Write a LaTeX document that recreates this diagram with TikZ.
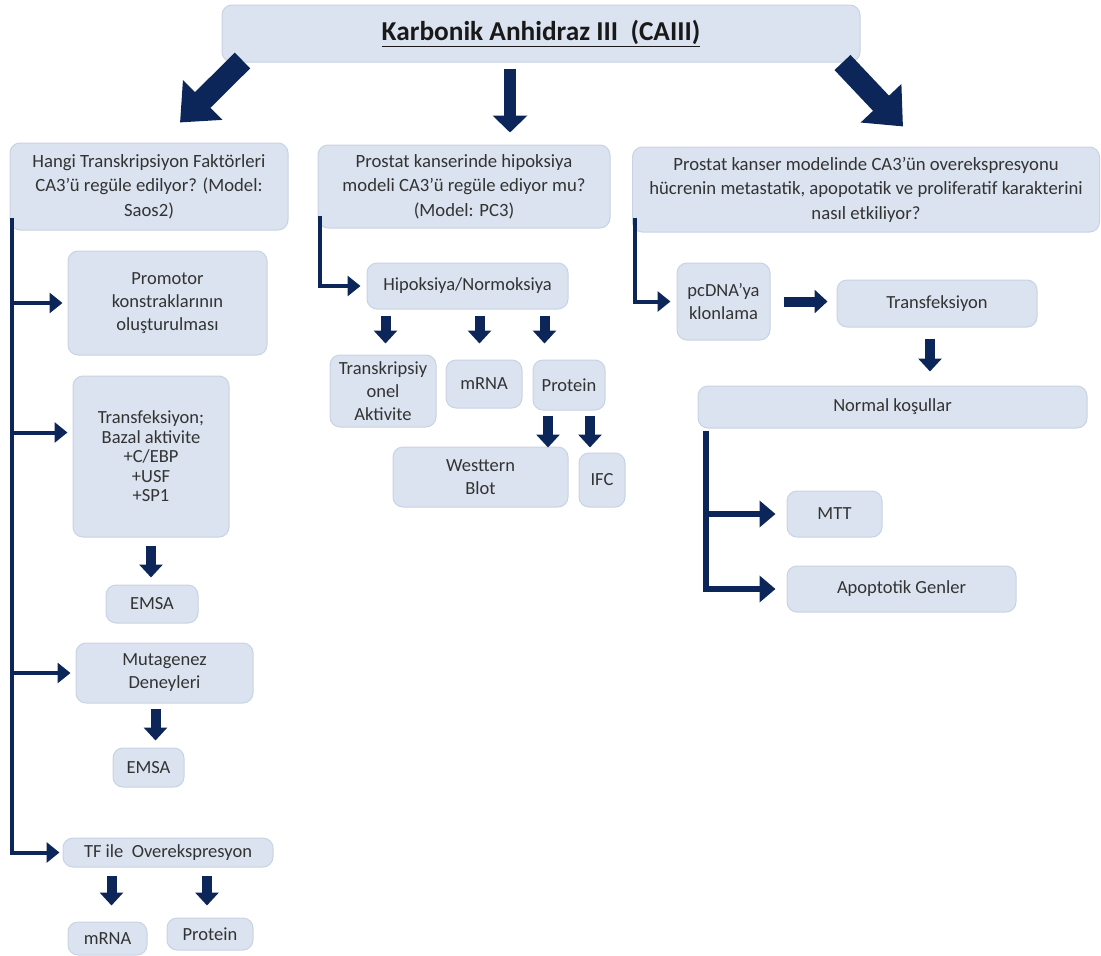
\documentclass[tikz,border=0pt]{standalone}
\usepackage{fontspec}
\setmainfont{Carlito}
\usetikzlibrary{arrows.meta,calc}
\definecolor{boxfill}{HTML}{DAE3EF}
\definecolor{boxline}{HTML}{C8D3E3}
\definecolor{navy}{HTML}{0D2659}
\definecolor{txt}{HTML}{333333}
\begin{document}
\begin{tikzpicture}[x=1pt,y=1pt,
  box/.style={draw=boxline, line width=1pt, fill=boxfill, rounded corners=10pt,
    align=center, text=txt, inner sep=0pt, font=\fontsize{18.5}{23}\selectfont},
  question/.style={box, font=\fontsize{18.7}{24.5}\selectfont},
  conn/.style={draw=navy, line width=4pt, -{Triangle[width=20pt,length=13pt]}},
  connb/.style={draw=navy, line width=6pt, -{Triangle[width=26pt,length=16pt]}},
  fat/.style={draw=navy, line width=10pt, -{Triangle[width=23pt,length=13pt]}},
  fatmid/.style={draw=navy, line width=12pt, -{Triangle[width=34pt,length=17pt]}},
  huge/.style={draw=navy, line width=22pt, -{Triangle[width=54pt,length=32pt]}}]
\useasboundingbox (0,0) rectangle (1101,-956);

% title
\node[box, minimum width=638, minimum height=57, text=black!90,
  font=\fontsize{27.3}{30}\selectfont\bfseries] (title) at (541,-33.5)
  {\underline{Karbonik Anhidraz III~ (CAIII)}};

% three questions
\node[question, minimum width=278, minimum height=87] (A) at (149,-186.5)
  {Hangi Transkripsiyon Faktörleri\\CA3’ü regüle edilyor? (Model:\\Saos2)};
\node[question, minimum width=292, minimum height=83] (B) at (464,-186.5)
  {Prostat kanserinde hipoksiya\\modeli CA3’ü regüle ediyor mu?\\(Model: PC3)};
\node[question, minimum width=467, minimum height=85] (C) at (866,-189.5)
  {Prostat kanser modelinde CA3’ün overekspresyonu\\hücrenin metastatik, apopotatik ve proliferatif karakterini\\nasıl etkiliyor?};

% left column
\node[box, minimum width=199, minimum height=104] (promo) at (167.5,-303)
  {Promotor\\konstraklarının\\oluşturulması};
\node[box, minimum width=156, minimum height=161, font=\fontsize{18.5}{19.5}\selectfont]
  (tfx) at (151,-456.5)
  {Transfeksiyon;\\Bazal aktivite\\+C/EBP\\+USF\\+SP1};
\node[box, minimum width=92, minimum height=38] (emsa1) at (152,-604) {EMSA};
\node[box, minimum width=177, minimum height=60] (mut) at (164.5,-673)
  {Mutagenez\\Deneyleri};
\node[box, minimum width=71, minimum height=39] (emsa2) at (148.5,-767.5) {EMSA};
\node[box, minimum width=210, minimum height=29] (tfo) at (168,-852.5)
  {TF ile~ Overekspresyon};
\node[box, minimum width=79, minimum height=33] (mrnaL) at (107.5,-938.5) {mRNA};
\node[box, minimum width=86, minimum height=32] (protL) at (210,-934) {Protein};

% middle column
\node[box, minimum width=201, minimum height=46] (hyp) at (467.5,-286)
  {Hipoksiya/Normoksiya};
\node[box, minimum width=106, minimum height=72] (trk) at (383,-391)
  {Transkripsiy\\onel\\Aktivite};
\node[box, minimum width=76, minimum height=48] (mrnaM) at (484,-384) {mRNA};
\node[box, minimum width=72, minimum height=50] (protM) at (569,-385) {Protein};
\node[box, minimum width=175, minimum height=60] (wb) at (480.5,-477)
  {Westtern\\Blot};
\node[box, minimum width=46, minimum height=54] (ifc) at (602,-480) {IFC};

% right column
\node[box, minimum width=93, minimum height=77] (pcdna) at (723.5,-301.5)
  {pcDNA’ya\\klonlama};
\node[box, minimum width=200, minimum height=47] (tfr) at (937,-303.5)
  {Transfeksiyon};
\node[box, minimum width=389, minimum height=42] (norm) at (892.5,-407)
  {Normal koşullar};
\node[box, minimum width=95, minimum height=46] (mtt) at (834.5,-514) {MTT};
\node[box, minimum width=229, minimum height=46] (apo) at (901.5,-589)
  {Apoptotik Genler};

% arrows out of the title
\draw[huge] ($(title.south west)+(21,2)$) -- ($(A.north)+(31,20)$);
\draw[fatmid] ($(title.south)+(-31,-6)$) -- ($(title.south)+(-31,-70)$);
\draw[huge] ($(title.south east)+(-18,0)$) -- ($(C.north)+(37,20)$);

% left spine and branches
\coordinate (sA) at ($(A.south west)+(2,13)$);
\coordinate (tfxin) at ($(tfx.west)+(0,24)$);
\draw[conn, shorten >=3pt] (sA) |- (tfo.west);
\draw[conn, shorten >=5pt] (sA |- promo.west) -- (promo.west);
\draw[conn, shorten >=5pt] (sA |- tfxin) -- (tfxin);
\draw[conn, shorten >=5pt] (sA |- mut.west) -- (mut.west);
\draw[fat, shorten <=8pt, shorten >=7pt] (tfx.south) -- (tfx.south |- emsa1.north);
\draw[fat] ($(mut.south)+(-9,-5)$) -- ($(mut.south)+(-9,-37)$);
\draw[fat, shorten <=8pt, shorten >=16pt] ($(mrnaL.north |- tfo.south)+(4,0)$) -- ($(mrnaL.north)+(4,0)$);
\draw[fat, shorten <=8pt, shorten >=12pt] ($(protL.north |- tfo.south)+(-3,0)$) -- ($(protL.north)+(-3,0)$);

% middle spine and arrows
\coordinate (sB) at ($(B.south west)+(2,13)$);
\draw[conn, shorten >=6pt] (sB) |- (hyp.west);
\draw[fat] ($(hyp.south)+(-82,-6)$) -- ($(hyp.south)+(-82,-34)$);
\draw[fat] ($(hyp.south)+(12,-6)$) -- ($(hyp.south)+(12,-34)$);
\draw[fat] ($(hyp.south)+(77,-6)$) -- ($(hyp.south)+(77,-34)$);
\draw[fat] ($(protM.south)+(-21,-5)$) -- ($(protM.south)+(-21,-37)$);
\draw[fat] ($(protM.south)+(21,-5)$) -- ($(protM.south)+(21,-37)$);

% right spine and arrows
\coordinate (sC) at ($(C.south west)+(3,15)$);
\draw[conn, shorten >=6pt] (sC) |- (pcdna.west);
\draw[fat, shorten <=13pt, shorten >=9pt] (pcdna.east) -- (pcdna.east -| tfr.west);
\draw[fat, shorten <=11pt, shorten >=14pt] ($(tfr.south)+(-7,0)$) -- ($(tfr.south |- norm.north)+(-7,0)$);
\coordinate (sN) at ($(norm.south west)+(8,-2)$);
\draw[connb, shorten >=11pt] (sN) |- (apo.west);
\draw[connb, shorten >=11pt] (sN |- mtt.west) -- (mtt.west);
\end{tikzpicture}
\end{document}
